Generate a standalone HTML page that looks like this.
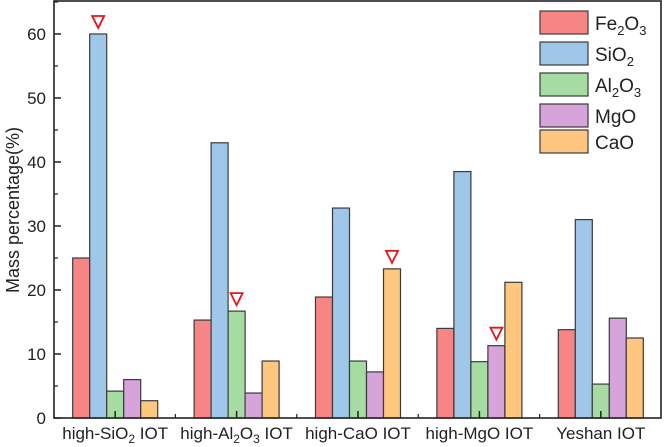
<!DOCTYPE html>
<html><head><meta charset="utf-8"><style>
body{margin:0;background:#fff}
svg{display:block;font-family:"Liberation Sans",Arial,sans-serif}
</style></head><body>
<svg id="c" width="664" height="447"></svg>
<script>
const categories=["high-SiO2 IOT","high-Al2O3 IOT","high-CaO IOT","high-MgO IOT","Yeshan IOT"];
const seriesNames=["Fe2O3","SiO2","Al2O3","MgO","CaO"];
const fe2o3=[25,15.3,18.9,14,13.8];
const sio2=[60,43,32.8,38.5,31];
const al2o3=[4.2,16.7,8.9,8.8,5.3];
const mgo=[6,3.9,7.2,11.3,15.6];
const cao=[2.7,8.9,23.3,21.2,12.5];
const yTicks=[0,10,20,30,40,50,60];
const markers=[[0,1],[1,2],[2,4],[3,3]];
const series=[fe2o3,sio2,al2o3,mgo,cao];
const colors=["#f88585","#9fc7ea","#a6dca2","#d6a3da","#fec67f"];
const NS="http://www.w3.org/2000/svg";
const svg=document.getElementById('c');
const L=54,R=661,T=1,B=418,YMAX=65.15;
const y=v=>B-(v/YMAX)*(B-T);
const gw=(R-L)/5;
const xc=i=>L+gw*(i+0.5)+0.5;
const bw=17;
function mk(t,a,txt){const e=document.createElementNS(NS,t);for(const k in a)e.setAttribute(k,a[k]);if(txt!=null)e.textContent=txt;svg.appendChild(e);return e;}
function chem(el,s,sub,d){
 // split into runs of digits (subscripts) and non-digits
 const parts=s.match(/\d+|\D+/g);let low=false;
 parts.forEach(p=>{
  const ts=document.createElementNS(NS,'tspan');
  const isD=/^\d+$/.test(p);
  if(isD){ts.setAttribute('font-size',sub);if(!low){ts.setAttribute('dy',d);low=true;}}
  else if(low){ts.setAttribute('dy',-d);low=false;}
  ts.textContent=p;el.appendChild(ts);
 });
}
series.forEach((s,si)=>s.forEach((v,ci)=>{
 const x=xc(ci)-2.5*bw+si*bw;
 const r=mk('rect',{x:x,y:y(v),width:bw,height:B-y(v),fill:colors[si],stroke:"#3a3a3a","stroke-width":1.2});
 
 
}));
markers.forEach(m=>{
 const ci=m[0],si=m[1];const cx=xc(ci)-2.5*bw+si*bw+bw/2;const ty=y(series[si][ci])-18;
 const p=mk('path',{d:`M${cx-6},${ty} L${cx+6},${ty} L${cx},${ty+12} Z`,fill:"none",stroke:"#e8141b","stroke-width":1.8});
 
 
});
const f=mk('rect',{x:L,y:T,width:R-L,height:B-T,fill:"none",stroke:"#222","stroke-width":1.6});


yTicks.forEach(v=>{
 mk('line',{x1:L,x2:L+7,y1:y(v),y2:y(v),stroke:"#222","stroke-width":1.5});
 mk('line',{x1:L,x2:L+4,y1:y(v+5),y2:y(v+5),stroke:"#222","stroke-width":1.2});
 const t=mk('text',{x:L-8,y:y(v)+6,"text-anchor":"end","font-size":17,fill:"#222"},v);
 
 
});
categories.forEach((c,i)=>{
 mk('line',{x1:xc(i),x2:xc(i),y1:B,y2:B-7,stroke:"#222","stroke-width":1.5});
 mk('line',{x1:L+gw*i,x2:L+gw*i,y1:B,y2:B-4,stroke:"#222","stroke-width":1.2});
 const t=mk('text',{x:xc(i),y:B+21,"text-anchor":"middle","font-size":17,fill:"#222"});
 chem(t,c,12,4);
 
 
});
const yl=mk('text',{x:0,y:0,transform:"translate(19,210) rotate(-90)","text-anchor":"middle","font-size":18,fill:"#222"},"Mass percentage(%)");


const ly=[11,42,73,104,130];
seriesNames.forEach((n,i)=>{
 const r=mk('rect',{x:540,y:ly[i],width:48,height:23,fill:colors[i],stroke:"#3a3a3a","stroke-width":1.2});
 
 
 const t=mk('text',{x:595,y:ly[i]+19,"font-size":19,fill:"#222"});
 chem(t,n,13,5);
 
 
});
</script>
</body></html>
